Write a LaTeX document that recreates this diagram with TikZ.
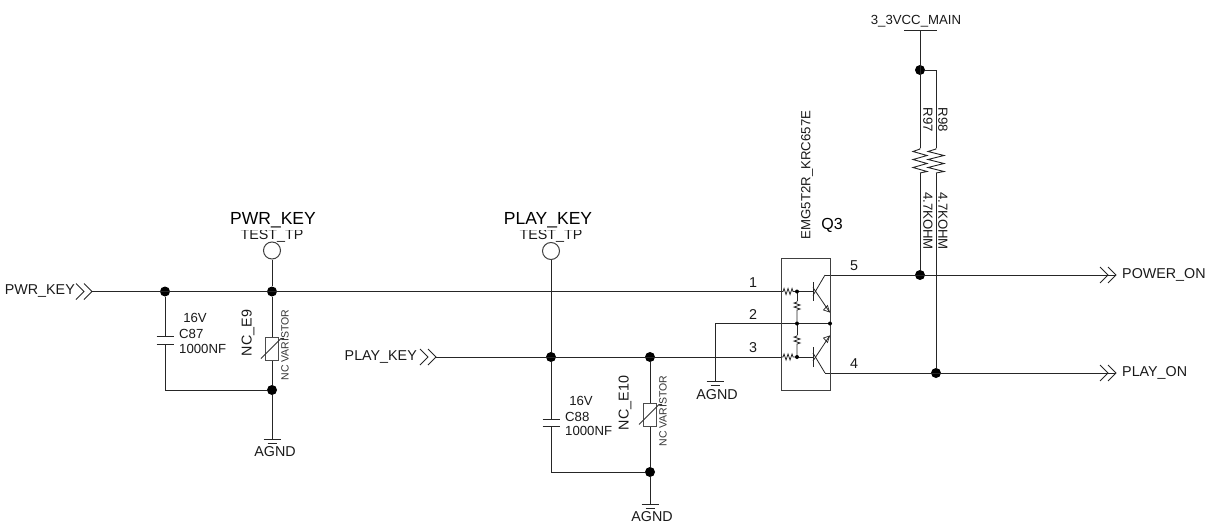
\documentclass[tikz,border=0pt]{standalone}
\usepackage{fontspec}
\setmainfont{Liberation Sans}
\newcommand{\fs}[1]{\fontsize{#1}{#1}\selectfont}
\tikzset{
 wire/.style={line width=1pt,draw=black!85},
 junct/.style={circle,fill=black,inner sep=0pt,minimum size=10pt},
 small/.style={circle,fill=black,inner sep=0pt,minimum size=4pt},
 tp/.style={circle,draw=black!75,line width=1pt,fill=white,inner sep=0pt,minimum size=17pt},
 txt/.style={inner sep=0pt,text=black!90,font=\fs{13.2}},
 lbl/.style={inner sep=0pt,text=black!90,font=\fs{14.3}},
 big/.style={inner sep=0pt,anchor=base,text depth=6pt,fill=white,text=black,font=\fs{17.5}},
 tiny/.style={inner sep=0pt,text=black!80,font=\fs{10.5},rotate=90},
}
\newcommand{\gnd}[1]{\draw[wire] ([xshift=-8.5pt]#1) -- ([xshift=8.5pt]#1) ([xshift=-4.5pt,yshift=-4pt]#1) -- ([xshift=4.5pt,yshift=-4pt]#1);}
\newcommand{\chev}[1]{\draw[line width=.8pt,draw=black!85] ([shift={(-16,-8)}]#1) -- ([shift={(-8,0)}]#1) -- ([shift={(-16,8)}]#1) ([shift={(-8,-8)}]#1) -- (#1) -- ([shift={(-8,8)}]#1);}
\newcommand{\hres}[2]{\draw[line width=.8pt,black!85] (#1) -- ++(2,0) -- ++(1,-3) -- ++(2,6) -- ++(2,-6) -- ++(2,6) -- ++(2,-6) -- ++(1,3) -- (#2);}
\newcommand{\vres}[2]{\draw[line width=.8pt,black!85] (#1) -- ++(0,1) -- ++(-3,1) -- ++(6,2) -- ++(-6,2) -- ++(6,2) -- ++(-3,1) -- ++(0,1) -- (#2);}
\newcommand{\varis}[2]{\node[draw=black!70,line width=1pt,fill=white,inner sep=0pt,minimum width=13pt,minimum height=23pt] (#1) at (#2) {};
 \draw[line width=.8pt,black!80] ([shift={(-11,10)}]#2) -- ([shift={(9,-10)}]#2) -- ++(3,0);}
\begin{document}
\begin{tikzpicture}[x=1pt,y=-1pt]
\useasboundingbox (0,0) rectangle (1213,525);
\coordinate (pwrin) at (92,291.5);
\coordinate (playin) at (436,357);
\coordinate (qa) at (781,291.5);
\coordinate (qc) at (781,357);
\coordinate (ra) at (797,291.5);
\coordinate (rc) at (797,357);
\coordinate (mid) at (797,323.5);
\coordinate (midr) at (830,323.5);
\coordinate (midl) at (715,323.5);
\coordinate (g3) at (715,381);
\coordinate (g1) at (272,439);
\coordinate (g2) at (650,504);
\coordinate (poweron) at (1116,275);
\coordinate (playon) at (1116,373);
\coordinate (vcc) at (920,30);
\coordinate (c87a) at (165,336);
\coordinate (c87b) at (165,344);
\coordinate (c88a) at (551,419);
\coordinate (c88b) at (551,426);
\coordinate (r97a) at (920,148);
\coordinate (r97b) at (920,173);
\coordinate (r98t) at (936,70);
\coordinate (r98a) at (936,148);
\coordinate (r98b) at (936,173);
\coordinate (b1) at (813,291.5);
\coordinate (b2) at (813,357);
\coordinate (c1) at (825,275);
\coordinate (c2) at (825,373);
\node[junct] (j1) at (165,291.5) {};
\node[junct] (j2) at (272,291.5) {};
\node[junct] (j3) at (272,390) {};
\node[junct] (j4) at (551,357) {};
\node[junct] (j5) at (650,357) {};
\node[junct] (j6) at (650,472) {};
\node[junct] (j7) at (920,70) {};
\node[junct] (j8) at (920,275) {};
\node[junct] (j9) at (936,373) {};
\coordinate (c88c) at (551,472);
\coordinate (c87c) at (165,390);
\draw[wire] (pwrin) -- (qa);
\draw[wire] (playin) -- (qc);
\draw[wire] (j1) -- (c87a) (c87b) -- (c87c) -- (j3);
\draw[wire] (j2) -- (j3) -- (g1);
\draw[wire] (j4) -- (c88a) (c88b) -- (c88c) -- (j6);
\draw[wire] (j5) -- (j6) -- (g2);
\draw[wire] (vcc) -- (r97a) (r97b) -- (j8);
\draw[wire] (j7) -- (r98t) -- (r98a) (r98b) -- (j9);
\draw[wire] (midr) -- (midl) -- (g3);
\draw[wire] (c1) -- (poweron);
\draw[wire] (c2) -- (playon);
\node[tp] (tp1) at (272,250.5) {};
\node[tp] (tp2) at (551,251) {};
\draw[wire] (tp1) -- (j2);
\draw[wire] (tp2) -- (j4);
\draw[wire] ([xshift=-8.5pt]c87a) -- ([xshift=8.5pt]c87a) ([xshift=-8.5pt]c87b) -- ([xshift=8.5pt]c87b);
\draw[wire] ([xshift=-8.5pt]c88a) -- ([xshift=8.5pt]c88a) ([xshift=-8.5pt]c88b) -- ([xshift=8.5pt]c88b);
\varis{ve9}{272,348.5}
\varis{ve10}{650,414.5}
\gnd{g1}\gnd{g2}\gnd{g3}
\draw[wire] ([xshift=-16pt]vcc) -- ([xshift=17pt]vcc);
\draw[line width=.9pt,black!85] (r97a) -- ++(0,1) -- ++(-7,2.5) -- ++(14,4) -- ++(-14,4) -- ++(14,4) -- ++(-14,4) -- ++(14,4) -- ++(-7,1.5);
\draw[line width=.9pt,black!85] (r98a) -- ++(0,1) -- ++(-8,2.5) -- ++(16,4) -- ++(-16,4) -- ++(16,4) -- ++(-16,4) -- ++(16,4) -- ++(-8,1.5);
\chev{pwrin}
\chev{playin}
\chev{poweron}
\chev{playon}
\node[draw=black!75,line width=1pt,inner sep=0pt,minimum width=49pt,minimum height=132pt,anchor=north west] (q3) at (781,258) {};
\hres{qa}{ra}
\hres{qc}{rc}
\draw[wire,line width=.8pt] (ra) -- (b1);
\draw[wire,line width=.8pt] (rc) -- (b2);
\draw[wire,line width=.8pt] (ra) -- (797,301);
\vres{797,301}{797,323.5}
\vres{797,335}{797,357}
\draw[wire,line width=.8pt] (mid) -- (797,335);
\node[small] (sa) at (ra) {};
\node[small] (sc) at (rc) {};
\node[small] (sm) at (mid) {};
\node[small] (smr) at (midr) {};
\draw[wire] ([yshift=-9pt]b1) -- ([yshift=10pt]b1);
\draw[wire] ([yshift=-10pt]b2) -- ([yshift=10pt]b2);
\draw[wire,line width=.8pt] ([yshift=-4pt]b1) -- (c1);
\draw[wire,line width=.8pt] ([yshift=4pt]b2) -- (c2);
\draw[wire,line width=.8pt] ([yshift=4pt]b1) -- (829.5,312);
\draw[wire,line width=.8pt] ([yshift=-4pt]b2) -- (829.5,336);
\draw[line width=.7pt,black!85] (829.5,312) -- (823.5,310) -- (827.5,305.5) -- cycle;
\draw[line width=.7pt,black!85] (829.5,336) -- (823.5,338) -- (827.5,342.5) -- cycle;
\node[txt] (tvcc) at (916,21) {3\_3VCC\_MAIN};
\node[txt,rotate=-90] (tr97) at (928,120) {R97};
\node[txt,rotate=-90] (tr98) at (943,120) {R98};
\node[txt,rotate=-90] (tv97) at (928,221) {4.7KOHM};
\node[txt,rotate=-90] (tv98) at (943,221) {4.7KOHM};
\node[txt,rotate=90] (tpart) at (807,175) {EMG5T2R\_KRC657E};
\node[inner sep=0pt,font=\fs{16}] (tq3) at (832,225) {Q3};
\node[lbl] (tn1) at (753,283) {1};
\node[lbl] (tn2) at (753,315) {2};
\node[lbl] (tn3) at (753,348) {3};
\node[lbl] (tn5) at (854,266) {5};
\node[lbl] (tn4) at (854,364) {4};
\node[lbl,anchor=east] (tpk) at (75,291) {PWR\_KEY};
\node[lbl,anchor=east] (tplk) at (417,357) {PLAY\_KEY};
\node[lbl,anchor=west] (tpo) at (1122,275) {POWER\_ON};
\node[lbl,anchor=west] (tpl) at (1122,373) {PLAY\_ON};
\node[lbl] (ta1) at (275,452) {AGND};
\node[lbl] (ta2) at (652,517) {AGND};
\node[lbl] (ta3) at (717,395) {AGND};
\node[lbl,anchor=base] (tt1) at (272,239.5) {TEST\_TP};
\node[lbl,anchor=base] (tt2) at (551,239.5) {TEST\_TP};
\node[big] (tb1) at (273,224) {PWR\_KEY};
\node[big] (tb2) at (548,224) {PLAY\_KEY};
\node[txt] (t16a) at (195,318) {16V};
\node[txt,anchor=west] (tc87) at (179,334) {C87};
\node[txt,anchor=west] (tn87) at (179,349) {1000NF};
\node[txt] (t16b) at (581,401) {16V};
\node[txt,anchor=west] (tc88) at (565,417) {C88};
\node[txt,anchor=west] (tn88) at (565,431) {1000NF};
\node[lbl,rotate=90] (te9) at (248,333) {NC\_E9};
\node[lbl,rotate=90] (te10) at (625,403) {NC\_E10};
\node[tiny] (tv9) at (285,345) {NC VARISTOR};
\node[tiny] (tv10) at (663,411) {NC VARISTOR};
\end{tikzpicture}
\end{document}
